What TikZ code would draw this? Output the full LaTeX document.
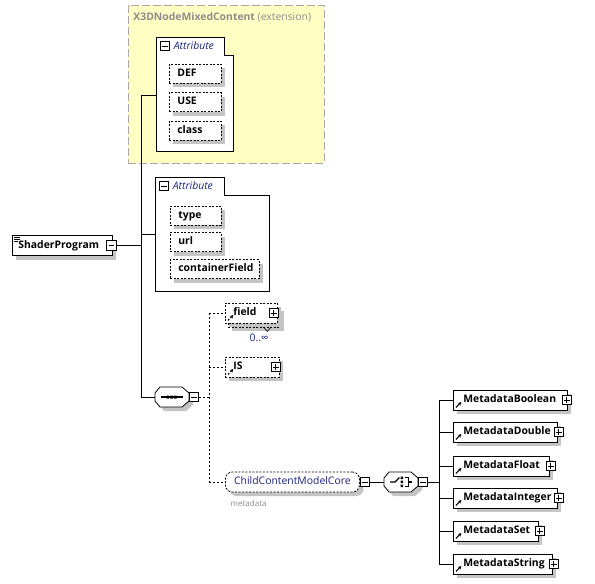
\documentclass[tikz,border=0pt]{standalone}
\usepackage{fontspec}
\setmainfont{Open Sans}
\usetikzlibrary{positioning,shadows,arrows.meta}
\usepackage{xcolor}

\definecolor{extyellow}{HTML}{FFFFC4}
\definecolor{extborder}{HTML}{A8A8A8}
\definecolor{titlegray}{HTML}{8C8C8C}
\definecolor{navytext}{HTML}{1A237E}
\definecolor{shadowgray}{HTML}{C4C4C4}

\begin{document}
\begin{tikzpicture}[x=1pt, y=-1pt, line width=0.8pt,
    every node/.style={font=\fontsize{10.4}{12}\selectfont},
    boxshadow/.style={drop shadow={shadow xshift=4pt, shadow yshift=-4pt, fill=shadowgray, opacity=1}},
    elem/.style={
        rectangle,
        draw,
        fill=white,
        boxshadow,
        minimum height=20pt,
        text height=8pt,
        text depth=2.5pt,
        inner xsep=6pt,
        align=left,
        anchor=west,
        font=\fontsize{10.4}{12}\selectfont\bfseries
    },
    refelem/.style={elem, inner xsep=10pt, path picture={
        \draw[line width=1.1pt, -{Stealth[length=3.5pt,width=3.5pt]}]
            ([shift={(2.5pt,2.5pt)}]path picture bounding box.south west) -- ++(5.5pt,5.5pt);
    }},
    attrbox/.style={elem, inner xsep=8pt, dash pattern=on 2pt off 1.5pt, minimum height=19pt},
    groupbox/.style={
        rectangle,
        rounded corners=7pt,
        draw,
        dash pattern=on 2pt off 1.5pt,
        fill=white,
        boxshadow,
        minimum height=20pt,
        text height=8pt,
        text depth=2.5pt,
        anchor=west,
        text=navytext
    },
    attrgroup/.style={draw, fill=white, line width=0.8pt},
    grouptitle/.style={anchor=west, font=\fontsize{10.4}{12}\selectfont\itshape, text=navytext},
    expandminus/.style={rectangle, draw, fill=white, minimum size=9.5pt, inner sep=0pt, line width=0.7pt,
        path picture={\draw[line width=0.8pt] ([xshift=2pt]path picture bounding box.west) -- ([xshift=-2pt]path picture bounding box.east);}},
    expandplus/.style={rectangle, draw, fill=white, minimum size=9.5pt, inner sep=0pt, line width=0.7pt,
        path picture={
            \draw[line width=0.8pt] ([xshift=2pt]path picture bounding box.west) -- ([xshift=-2pt]path picture bounding box.east);
            \draw[line width=0.8pt] ([yshift=2pt]path picture bounding box.south) -- ([yshift=-2pt]path picture bounding box.north);
        }},
    compositor/.style={rectangle, minimum width=34pt, minimum height=20pt, inner sep=0pt},
    octagon/.style={draw, fill=white, line width=0.8pt},
    dashline/.style={dash pattern=on 2pt off 2pt}
]

    \useasboundingbox (0,0) rectangle (595,584);

    % extension
    \node (ext_box) [draw=extborder, fill=extyellow, dash pattern=on 8pt off 3pt, line width=0.8pt,
        minimum width=196pt, minimum height=158pt, anchor=north west, shift={(128,5)}] {};
    \node (ext_title) [anchor=west, text=titlegray, inner xsep=0pt, shift={(133,17)}]
    {
        \textbf{X3DNodeMixedContent} (extension)
    };

    \draw[attrgroup] (156,37) -- (224,37) -- (224,55) -- (233,55) -- (233,151) -- (156,151) -- cycle;
    \node (attr_one_minus) [expandminus, shift={(165,46)}] {};
    \node (attr_one_title) [grouptitle, right=0pt of attr_one_minus] {Attribute};
    \coordinate (attr_one_join) at (156,95);

    \node (attr_def) [attrbox, text width=36pt, shift={(169,73.5)}] {DEF};
    \node (attr_use) [attrbox, text width=36pt, shift={(169,102)}] {USE};
    \node (attr_class) [attrbox, text width=36pt, shift={(169,130.5)}] {class};

    % ShaderProgram
    \node (shader_program) [elem, text width=88pt, shift={(12,245.5)},
        path picture={
            \draw[line width=0.7pt] ([shift={(2pt,-2pt)}]path picture bounding box.north west) -- ++(6pt,0pt);
            \draw[line width=0.7pt] ([shift={(2pt,-4pt)}]path picture bounding box.north west) -- ++(6pt,0pt);
            \draw[line width=0.7pt] ([shift={(2pt,-6pt)}]path picture bounding box.north west) -- ++(4pt,0pt);
        }]
    {
        ShaderProgram
    };
    \node (shader_minus) [expandminus] at ([xshift=-1.5pt]shader_program.east) {};

    \draw[attrgroup] (155,177) -- (224,177) -- (224,195) -- (269,195) -- (269,291) -- (155,291) -- cycle;
    \node (attr_two_minus) [expandminus, shift={(164,186)}] {};
    \node (attr_two_title) [grouptitle, right=0pt of attr_two_minus] {Attribute};
    \coordinate (attr_two_join) at (155,234);

    \node (attr_type) [attrbox, text width=35pt, shift={(170,215.5)}] {type};
    \node (attr_url) [attrbox, text width=35pt, shift={(170,242)}] {url};
    \node (attr_container_field) [attrbox, text width=73pt, shift={(170,269)}] {containerField};

    % sequence
    \fill[shadowgray] (164,391) -- (186,391) -- (193,397) -- (193,405) -- (186,411) -- (164,411) -- (159,405) -- (159,397) -- cycle;
    \draw[octagon] (160,387) -- (182,387) -- (189,393) -- (189,401) -- (182,407) -- (160,407) -- (155,401) -- (155,393) -- cycle;
    \node (seq_comp) [compositor, shift={(172,397)}] {};
    \draw[line width=1.2pt] (161,397) -- (183,397);
    \fill (166.5,395.5) rectangle ++(2.6,3) (170.3,395.5) rectangle ++(2.6,3) (174.1,395.5) rectangle ++(2.6,3);
    \node (seq_minus) [expandminus, shift={(194,397)}] {};

    \node (field_back) [elem, dash pattern=on 2pt off 1.5pt, inner xsep=8pt, text width=36pt, shift={(228,317)}] {};
    \node (field_elem) [refelem, dash pattern=on 2pt off 1.5pt, inner xsep=8pt, boxshadow/.style={}, text width=36pt, shift={(225,313)}] {field};
    \node (field_plus) [expandplus] at ([xshift=-4pt]field_elem.east) {};
    \draw[line width=0.6pt] ([xshift=-17pt]field_back.south east) -- ++(3.5pt,-4pt) -- ++(3.5pt,4pt);
    \node (field_occurs) [text=navytext, shift={(259,338)}] {0..∞};

    \node (is_elem) [refelem, dash pattern=on 2pt off 1.5pt, inner xsep=8pt, text width=38pt, shift={(225,367)}] {IS};
    \node (is_plus) [expandplus] at ([xshift=-4pt]is_elem.east) {};

    \node (child_content_model_core) [groupbox, minimum width=134pt, inner xsep=4pt, shift={(225,482)}] {ChildContentModelCore};
    \node (cmc_minus) [expandminus, shift={(365,482)}] {};
    \node (cmc_name) [anchor=west, text=titlegray, font=\fontsize{8}{9}\selectfont, shift={(227,503)}] {metadata};

    % choice
    \fill[shadowgray] (393,476) -- (415,476) -- (422,482) -- (422,490) -- (415,496) -- (393,496) -- (388,490) -- (388,482) -- cycle;
    \draw[octagon] (389,472) -- (411,472) -- (418,478) -- (418,486) -- (411,492) -- (389,492) -- (384,486) -- (384,478) -- cycle;
    \node (choice_comp) [compositor, shift={(401,482)}] {};
    \draw[line width=1.1pt] (390,482) -- (395,482) -- (399.5,477.5);
    \fill (400.5,476.5) rectangle ++(2.6,2.6) (400.5,480.5) rectangle ++(2.6,2.6) (400.5,484.5) rectangle ++(2.6,2.6);
    \draw[line width=1.1pt] (404.5,477.5) -- (408.5,477.5) -- (408.5,486.5) -- (404.5,486.5) (408.5,482) -- (412,482);
    \node (choice_minus) [expandminus, shift={(423,482)}] {};

    \node (metadata_boolean) [refelem, text width=94pt, shift={(453,400)}] {MetadataBoolean};
    \node (metadata_double) [refelem, text width=84pt, shift={(453,432)}] {MetadataDouble};
    \node (metadata_float) [refelem, text width=76pt, shift={(453,466)}] {MetadataFloat};
    \node (metadata_integer) [refelem, text width=84pt, shift={(453,498)}] {MetadataInteger};
    \node (metadata_set) [refelem, text width=65pt, shift={(453,531)}] {MetadataSet};
    \node (metadata_string) [refelem, text width=79pt, shift={(453,564)}] {MetadataString};

    \node (metadata_boolean_plus) [expandplus] at ([xshift=-1pt]metadata_boolean.east) {};
    \node (metadata_double_plus) [expandplus] at ([xshift=1pt]metadata_double.east) {};
    \node (metadata_float_plus) [expandplus] at ([xshift=1pt]metadata_float.east) {};
    \node (metadata_integer_plus) [expandplus] at ([xshift=1pt]metadata_integer.east) {};
    \node (metadata_set_plus) [expandplus] at ([xshift=1pt]metadata_set.east) {};
    \node (metadata_string_plus) [expandplus] at ([xshift=1pt]metadata_string.east) {};

    % connectors
    \coordinate (trunk_top) at (141,95);
    \coordinate (trunk_attr) at (141,234);
    \coordinate (trunk_shader) at (141,245.5);
    \coordinate (trunk_seq) at (141,397);

    \draw (shader_minus) -- (trunk_shader);
    \draw (trunk_top) -- (trunk_seq);
    \draw (trunk_top) -- (attr_one_join);
    \draw (trunk_attr) -- (attr_two_join);
    \draw (trunk_seq) -- (seq_comp);

    \coordinate (seq_branch) at (209,397);
    \coordinate (field_branch) at (209,313);
    \coordinate (is_branch) at (209,367);
    \coordinate (cmc_branch) at (209,482);

    \draw[dashline] (seq_minus) -- (seq_branch);
    \draw[dashline] (field_branch) -- (cmc_branch);
    \draw[dashline] (field_branch) -- (field_elem);
    \draw[dashline] (is_branch) -- (is_elem);
    \draw[dashline] (cmc_branch) -- (child_content_model_core);

    \draw (cmc_minus) -- (choice_comp);

    \coordinate (choice_branch) at (439,482);
    \coordinate (meta_top) at (439,400);
    \coordinate (meta_bottom) at (439,564);
    \draw (choice_minus) -- (choice_branch);
    \draw (meta_top) -- (meta_bottom);
    \draw (meta_top) -- (metadata_boolean);
    \draw (439,432) -- (metadata_double);
    \draw (439,466) -- (metadata_float);
    \draw (439,498) -- (metadata_integer);
    \draw (439,531) -- (metadata_set);
    \draw (meta_bottom) -- (metadata_string);

\end{tikzpicture}
\end{document}
